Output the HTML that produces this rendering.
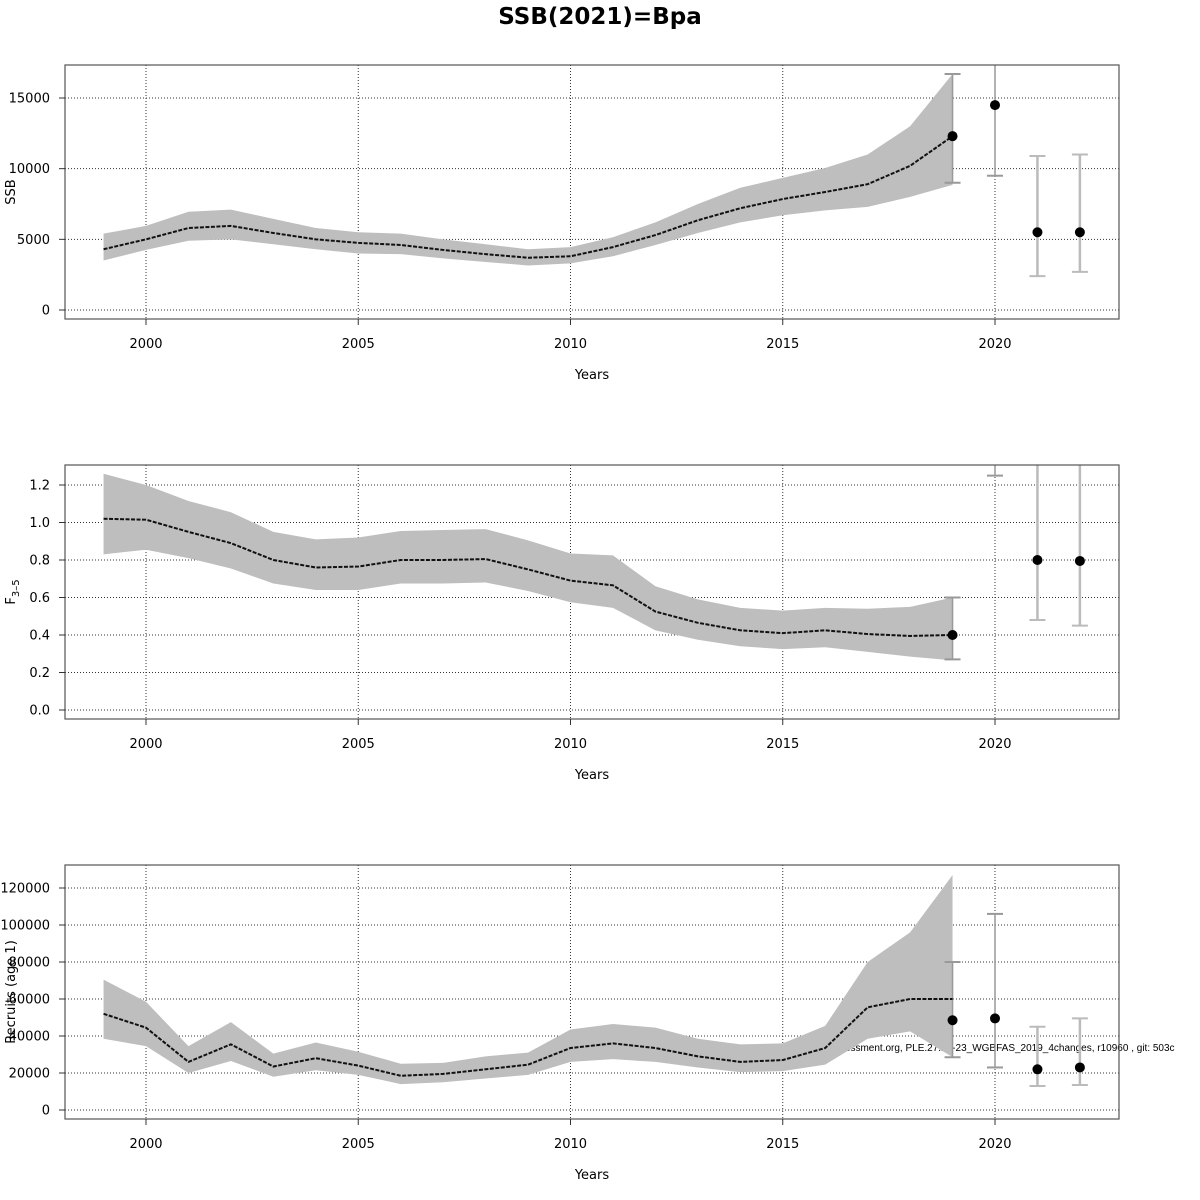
<!DOCTYPE html>
<html><head><meta charset="utf-8">
<style>
html,body{margin:0;padding:0;background:#fff;}
svg{display:block;font-family:"DejaVu Sans","Liberation Sans",sans-serif;}
</style></head>
<body>
<svg id="chart" width="1200" height="1200" viewBox="0 0 1200 1200" xmlns="http://www.w3.org/2000/svg">
<rect width="1200" height="1200" fill="#fff"/>
<text x="600" y="24" text-anchor="middle" font-size="23" font-weight="bold">SSB(2021)=Bpa</text>
<text x="806" y="1051" font-size="10" font-family="Liberation Sans, sans-serif">stockassessment.org, PLE.27.21-23_WGBFAS_2019_4changes, r10960 , git: 503c</text>
</svg>
<script>
const years=[1999,2000,2001,2002,2003,2004,2005,2006,2007,2008,2009,2010,2011,2012,2013,2014,2015,2016,2017,2018,2019];
const xTicks=[2000,2005,2010,2015,2020];
const projYears=[2019,2020,2021,2022];

const ssbMean=[4300,5000,5800,5950,5450,5000,4750,4600,4250,3950,3700,3800,4450,5300,6350,7200,7850,8350,8900,10200,12300];
const ssbHigh=[5400,5950,6950,7100,6450,5800,5500,5400,5000,4650,4300,4450,5150,6200,7500,8650,9350,10050,11000,13000,16700];
const ssbLow=[3500,4250,4900,5000,4650,4300,4000,3950,3650,3400,3150,3300,3800,4600,5450,6200,6700,7050,7300,8000,8850];
const ssbProjMean=[12300,14500,5500,5500];
const ssbProjLow=[9000,9500,2400,2700];
const ssbProjHigh=[16700,19000,10900,11000];
const ssbTicks=[0,5000,10000,15000];

const fMean=[1.02,1.015,0.95,0.89,0.80,0.76,0.765,0.80,0.80,0.805,0.75,0.69,0.665,0.525,0.465,0.425,0.41,0.425,0.405,0.395,0.40];
const fHigh=[1.26,1.20,1.115,1.055,0.95,0.91,0.92,0.955,0.96,0.965,0.905,0.835,0.825,0.66,0.59,0.545,0.53,0.545,0.54,0.55,0.60];
const fLow=[0.83,0.855,0.81,0.755,0.675,0.64,0.64,0.675,0.675,0.68,0.635,0.575,0.545,0.425,0.375,0.34,0.325,0.335,0.31,0.285,0.265];
const fProjMean=[0.40,1.6,0.80,0.795];
const fProjLow=[0.27,1.25,0.48,0.45];
const fProjHigh=[0.60,2.0,1.6,1.6];
const fTicks=[0.0,0.2,0.4,0.6,0.8,1.0,1.2];
const fTickLabels=["0.0","0.2","0.4","0.6","0.8","1.0","1.2"];

const recMean=[52000,44500,26000,35500,23500,28000,24000,18500,19500,22000,24500,33500,36000,33500,29000,26000,27000,33500,55500,60000,60000];
const recHigh=[70500,58500,34500,47500,30500,36500,31500,25000,25500,29000,31000,43500,46500,44500,38500,35500,36000,45500,80000,96000,127000];
const recLow=[38500,34500,20000,26500,18000,21500,19000,14000,15000,17000,19000,26000,27500,26000,23000,20500,21000,24500,38500,42500,28600];
const recProjMean=[48500,49500,22000,23000];
const recProjLow=[28500,23000,13000,13500];
const recProjHigh=[80000,106000,45000,49500];
const recTicks=[0,20000,40000,60000,80000,100000,120000];

const NS="http://www.w3.org/2000/svg";
const svg=document.getElementById('chart');
function mk(tag,attrs,parent){const e=document.createElementNS(NS,tag);for(const k in attrs)e.setAttribute(k,attrs[k]);(parent||svg).appendChild(e);return e;}
const X=y=>146+(y-2000)*(995-146)/20;

function panel(id,top,yZeroPx,yPerUnit,mean,hi,lo,pm,pl,ph,ticks,tickLabels,ylab,sub){
  const L=65,R=1119,T=top,B=top+254;
  const Y=v=>yZeroPx-v*yPerUnit;
  const g=mk('g',{});
  
  
  const cp=mk('clipPath',{id:id+'-clip'},g);
  mk('rect',{x:L,y:T,width:R-L,height:B-T},cp);
  // grid
  ticks.forEach(t=>{const l=mk('line',{x1:L,x2:R,y1:Y(t),y2:Y(t),stroke:'#333','stroke-width':1,'stroke-dasharray':'1,2'},g);
    });
  xTicks.forEach(t=>{const l=mk('line',{x1:X(t),x2:X(t),y1:T,y2:B,stroke:'#333','stroke-width':1,'stroke-dasharray':'1,2'},g);
    });
  const cg=mk('g',{'clip-path':'url(#'+id+'-clip)'},g);
  // band
  let d='M'+years.map((y,i)=>X(y)+','+Y(hi[i])).join('L');
  for(let i=years.length-1;i>=0;i--)d+='L'+X(years[i])+','+Y(lo[i]);
  const band=mk('path',{d:d+'Z',fill:'#bebebe',stroke:'none'},cg);
  
  // error bars
  projYears.forEach((y,i)=>{
    const col=i<2?'#999':'#bbb', w=i<2?1.5:2.5;
    const bg=mk('g',{},cg);
    
    mk('line',{x1:X(y),x2:X(y),y1:Y(pl[i]),y2:Y(ph[i]),stroke:col,'stroke-width':w},bg);
    mk('line',{x1:X(y)-8,x2:X(y)+8,y1:Y(pl[i]),y2:Y(pl[i]),stroke:col,'stroke-width':2},bg);
    mk('line',{x1:X(y)-8,x2:X(y)+8,y1:Y(ph[i]),y2:Y(ph[i]),stroke:col,'stroke-width':2},bg);
  });
  // mean line
  const ln=mk('polyline',{points:years.map((y,i)=>X(y)+','+Y(mean[i])).join(' '),fill:'none',stroke:'#111','stroke-width':2,'stroke-dasharray':'4,1.5'},cg);
  
  projYears.forEach((y,i)=>{const c=mk('circle',{cx:X(y),cy:Y(pm[i]),r:5,fill:'#000'},cg);
    });
  // box
  const bx=mk('rect',{x:L,y:T,width:R-L,height:B-T,fill:'none',stroke:'#555','stroke-width':1.2},g);
  
  // y ticks
  ticks.forEach((t,i)=>{mk('line',{x1:L-6,x2:L,y1:Y(t),y2:Y(t),stroke:'#333'},g);
    const tx=mk('text',{x:L-15,y:Y(t)+4.5,'text-anchor':'end','font-size':13},g);tx.textContent=tickLabels[i];
    });
  xTicks.forEach(t=>{mk('line',{x1:X(t),x2:X(t),y1:B,y2:B+6,stroke:'#333'},g);
    const tx=mk('text',{x:X(t),y:B+29,'text-anchor':'middle','font-size':13},g);tx.textContent=String(t);
    });
  const xt=mk('text',{x:592,y:B+60,'text-anchor':'middle','font-size':13},g);xt.textContent='Years';
  
  const yc=(T+B)/2;
  const yt=mk('text',{x:0,y:0,transform:'translate(15,'+yc+') rotate(-90)','text-anchor':'middle','font-size':13},g);
  yt.textContent=ylab;
  if(sub){const ts=mk('tspan',{'font-size':10,dy:4},yt);ts.textContent=sub;}
  
}
panel('ssb',65,310,212/15000,ssbMean,ssbHigh,ssbLow,ssbProjMean,ssbProjLow,ssbProjHigh,ssbTicks,ssbTicks.map(String),'SSB');
panel('f',465,710,187.5,fMean,fHigh,fLow,fProjMean,fProjLow,fProjHigh,fTicks,fTickLabels,'F','3\u20135');
panel('rec',865,1110,222/120000,recMean,recHigh,recLow,recProjMean,recProjLow,recProjHigh,recTicks,recTicks.map(String),'Recruits (age 1)');
</script>
</body></html>
